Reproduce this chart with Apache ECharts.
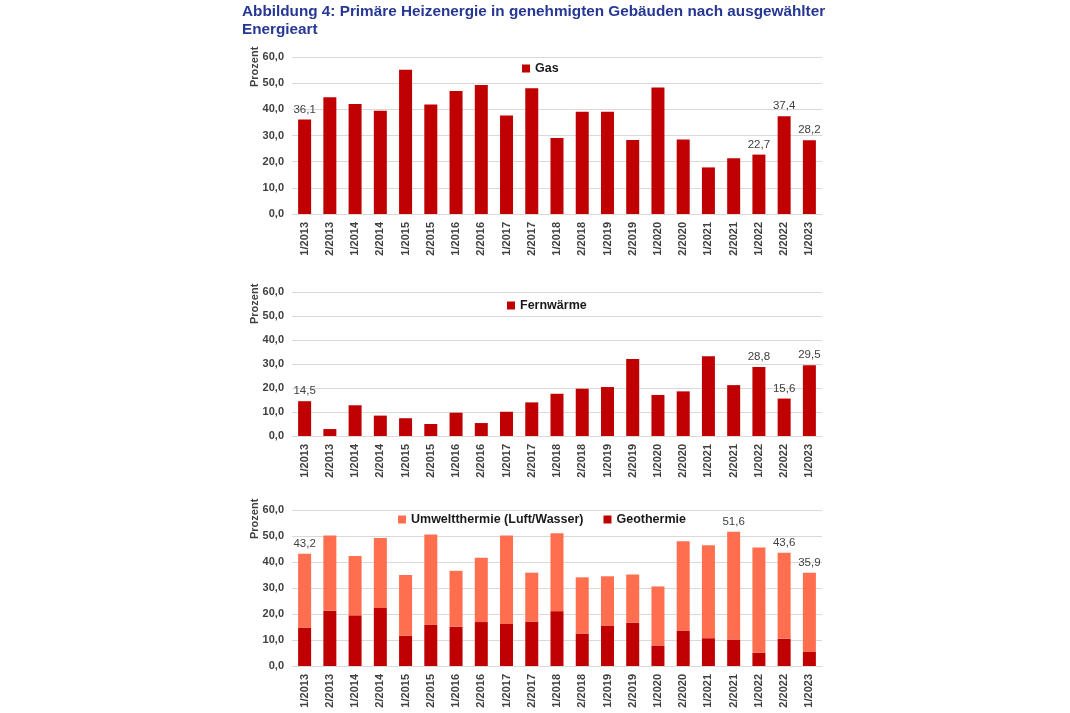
<!DOCTYPE html>
<html>
<head>
<meta charset="utf-8">
<script src="https://cdn.jsdelivr.net/npm/echarts@6/dist/echarts.min.js"></script>
<style>
html,body{margin:0;padding:0;background:#fff;}
#chart{width:1070px;height:713px;}
</style>
</head>
<body>
<div id="chart"></div>
<script>
const categories = ['1/2013','2/2013','1/2014','2/2014','1/2015','2/2015','1/2016','2/2016','1/2017','2/2017','1/2018','2/2018','1/2019','2/2019','1/2020','2/2020','1/2021','2/2021','1/2022','2/2022','1/2023'];
const gasValues = [36.1,44.6,42.0,39.5,55.1,41.8,47.0,49.3,37.6,48.1,29.0,39.1,39.1,28.3,48.3,28.5,17.8,21.3,22.7,37.4,28.2];
const fernwaermeValues = [14.5,2.9,12.8,8.5,7.4,5.0,9.7,5.4,10.1,14.0,17.6,19.7,20.4,32.1,17.1,18.6,33.2,21.2,28.8,15.6,29.5];
const waermeTotalValues = [43.2,50.2,42.3,49.2,35.0,50.6,36.6,41.6,50.2,35.9,51.1,34.1,34.5,35.2,30.6,48.0,46.4,51.6,45.6,43.6,35.9];
const geothermieValues = [14.8,21.3,19.5,22.3,11.6,15.9,15.1,16.9,16.2,17.1,21.1,12.5,15.4,16.7,7.9,13.6,10.7,10.2,5.1,10.5,5.6];
const gasLabelIdx = [0,18,19,20];
const fernLabelIdx = [0,18,19,20];
const waermeLabelIdx = [0,17,19,20];
const yMin = 0, yMax = 60, yStep = 10;

const umweltValues = waermeTotalValues.map((t,i)=>Math.round((t-geothermieValues[i])*10)/10);
const fmt = v => v.toFixed(1).replace('.', ',');

const RED = '#C00000';
const CORAL = '#FF6E4F';
const TXT = '#404040';
const FONT = 'Liberation Sans, Arial, sans-serif';

function labelled(values, idxs, formatter){
  return values.map((v,i)=> idxs.includes(i) ? {value:v, label:{show:true, position:'top', distance:4, color:TXT, fontSize:11.5, fontFamily:FONT, formatter: formatter ? (()=>formatter(i)) : (p=>fmt(p.value))}} : v);
}

const grids = [
  {left:292, right:248, top:57, height:157},
  {left:292, right:248, top:292, height:144},
  {left:292, right:248, top:510, height:156}
];

function xAx(gi){
  return {type:'category', gridIndex:gi, data:categories,
    axisLine:{show:true, lineStyle:{color:'#d9d9d9'}}, axisTick:{show:false},
    axisLabel:{rotate:90, color:TXT, fontSize:11, fontWeight:'bold', fontFamily:FONT, interval:0, margin:8}};
}
function yAx(gi){
  return {type:'value', gridIndex:gi, min:yMin, max:yMax, interval:yStep,
    axisLine:{show:false}, axisTick:{show:false},
    splitLine:{lineStyle:{color:'#d9d9d9', width:1}},
    axisLabel:{color:TXT, fontSize:11, fontWeight:'bold', fontFamily:FONT, formatter:v=>fmt(v), margin:8}};
}

function prozent(y){
  return {type:'text', x:255, y:y, rotation:Math.PI/2,
    style:{text:'Prozent', fill:TXT, font:'bold 11px ' + FONT, textAlign:'left', textVerticalAlign:'middle'}};
}

const legendText = {color:'#1a1a1a', fontSize:12.5, fontWeight:'bold', fontFamily:FONT};

const option = {
  animation:false,
  backgroundColor:'#fff',
  title:{text:'Abbildung 4: Primäre Heizenergie in genehmigten Gebäuden nach ausgewählter\nEnergieart',
    left:242, top:3, padding:0,
    textStyle:{color:'#263894', fontSize:15.3, fontWeight:'bold', fontFamily:FONT, lineHeight:18}},
  grid:grids,
  xAxis:[xAx(0), xAx(1), xAx(2)],
  yAxis:[yAx(0), yAx(1), yAx(2)],
  legend:[
    {data:['Gas'], left:517, top:57, icon:'rect', itemWidth:8, itemHeight:8, textStyle:legendText},
    {data:['Fernwärme'], left:502, top:294, icon:'rect', itemWidth:8, itemHeight:8, textStyle:legendText},
    {data:['Umweltthermie (Luft/Wasser)','Geothermie'], left:393, top:508, icon:'rect', itemWidth:8, itemHeight:8, itemGap:20, textStyle:legendText}
  ],
  graphic:[prozent(87), prozent(324), prozent(539)],
  series:[
    {name:'Gas', type:'bar', xAxisIndex:0, yAxisIndex:0, barWidth:13, itemStyle:{color:RED},
      data:labelled(gasValues, gasLabelIdx)},
    {name:'Fernwärme', type:'bar', xAxisIndex:1, yAxisIndex:1, barWidth:13, itemStyle:{color:RED},
      data:labelled(fernwaermeValues, fernLabelIdx)},
    {name:'Geothermie', type:'bar', stack:'wp', xAxisIndex:2, yAxisIndex:2, barWidth:13, itemStyle:{color:RED},
      data:geothermieValues},
    {name:'Umweltthermie (Luft/Wasser)', type:'bar', stack:'wp', xAxisIndex:2, yAxisIndex:2, barWidth:13, itemStyle:{color:CORAL},
      data:labelled(umweltValues, waermeLabelIdx, i=>fmt(waermeTotalValues[i]))}
  ]
};

const chart = echarts.init(document.getElementById('chart'), null, {renderer:'canvas'});
chart.setOption(option);
</script>
</body>
</html>
